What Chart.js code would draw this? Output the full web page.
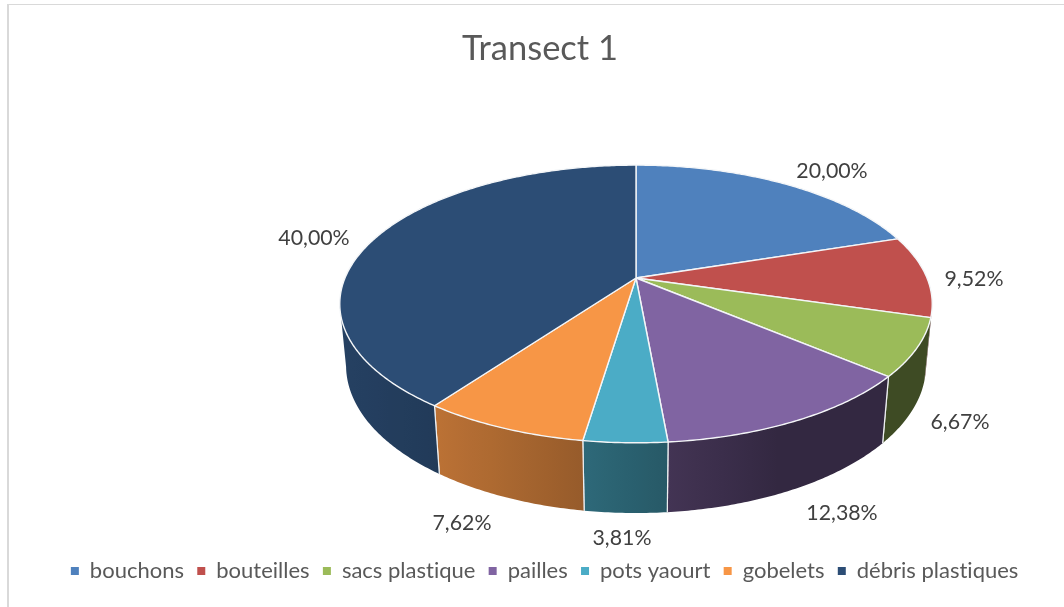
<!DOCTYPE html>
<html>
<head>
<meta charset="utf-8">
<title>Transect 1</title>
<script src="https://cdn.jsdelivr.net/npm/chart.js@4/dist/chart.umd.min.js"></script>
<style>
  html, body { margin: 0; padding: 0; background: #fff; overflow: hidden; }
  #frame { position: absolute; left: 7px; top: 4px; width: 1057px; height: 603px; box-sizing: border-box; border-left: 2px solid #d9d9d9; border-top: 1px solid #d9d9d9; }
  #chart { position: absolute; left: 0; top: 0; }
</style>
</head>
<body>
<div id="frame"></div>
<canvas id="chart" width="1064" height="607"></canvas>
<script>
const categories = ['bouchons', 'bouteilles', 'sacs plastique', 'pailles', 'pots yaourt', 'gobelets', 'débris plastiques'];
const percents = [20.00, 9.52, 6.67, 12.38, 3.81, 7.62, 40.00];
const colors = ['#4f81bd', '#c0504d', '#9bbb59', '#8064a2', '#4bacc6', '#f79646', '#2c4d75'];

// where each percentage label sits (text centre)
const labelSpots = [[832, 171.5], [974, 279], [960, 422], [842, 513], [622, 538], [462, 523], [314, 238]];

// the "camera": Chart.js only does flat pies, so slices get projected by hand
const cam = { cx: 636, cy: 278, a: 291, b: 134, k: -0.187, depth: 62, shrink: 0.021 };

function project(theta, z) {
    const X = Math.sin(theta), Y = -Math.cos(theta);
    const w = 1 + cam.k * Y + cam.shrink * z;
    return { x: cam.cx + cam.a * X / w, y: cam.cy + (cam.b * Y + cam.depth * z) / w };
}

// wall lighting goes darker from left to right
const shadeStops = [[340, .84], [435, .76], [583, .61], [667, .52], [780, .40], [1000, .40]];
function shadeAt(x) {
    for (let i = 1; i < shadeStops.length; i++) {
        if (x <= shadeStops[i][0]) {
            const p = shadeStops[i - 1], q = shadeStops[i];
            return p[1] + (q[1] - p[1]) * Math.max(0, x - p[0]) / (q[0] - p[0]);
        }
    }
    return .4;
}
function darken(hex, f) {
    const n = parseInt(hex.slice(1), 16);
    return `rgb(${Math.round((n >> 16) * f)},${Math.round(((n >> 8) & 255) * f)},${Math.round((n & 255) * f)})`;
}

function sampleAngles(start, end) {
    const n = Math.max(2, Math.ceil((end - start) / 0.01));
    const out = [];
    for (let i = 0; i <= n; i++) out.push(start + (end - start) * i / n);
    return out;
}

function drawWall(ctx, start, end, color) {
    // only the part facing the viewer, up to the left silhouette so the edge is a straight tangent
    const from = Math.max(start, 1.8), to = Math.min(end, 4.52);
    if (to <= from) return;
    const angles = sampleAngles(from, to);
    const top = angles.map(t => project(t, 0));
    const bottom = angles.map(t => project(t, 1));
    const xs = top.concat(bottom).map(p => p.x);
    const x0 = Math.min(...xs), x1 = Math.max(...xs);
    const grad = ctx.createLinearGradient(x0, 0, x1, 0);
    for (let i = 0; i <= 8; i++) {
        grad.addColorStop(i / 8, darken(color, shadeAt(x0 + (x1 - x0) * i / 8)));
    }
    ctx.beginPath();
    top.forEach((p, i) => i ? ctx.lineTo(p.x, p.y) : ctx.moveTo(p.x, p.y));
    bottom.reverse().forEach(p => ctx.lineTo(p.x, p.y));
    ctx.closePath();
    ctx.fillStyle = grad;
    ctx.fill();

    // white seam at the slice edges
    ctx.strokeStyle = '#eef0f2';
    ctx.lineWidth = 1.2;
    [start, end].forEach(t => {
        if (t > 1.9 && t < 4.5) {
            const p = project(t, 0), q = project(t, 1);
            ctx.beginPath();
            ctx.moveTo(p.x, p.y);
            ctx.lineTo(q.x, q.y);
            ctx.stroke();
        }
    });
}

function drawTop(ctx, start, end, color) {
    ctx.beginPath();
    ctx.moveTo(cam.cx, cam.cy);
    sampleAngles(start, end).forEach(t => {
        const p = project(t, 0);
        ctx.lineTo(p.x, p.y);
    });
    ctx.closePath();
    ctx.fillStyle = color;
    ctx.fill();
    ctx.strokeStyle = '#f4f6f8';
    ctx.lineWidth = 1.4;
    ctx.lineJoin = 'round';
    ctx.stroke();
}

const pie3d = {
    id: 'pie3d',
    beforeDraw(chart) {
        // no "ti" ligature in plastiques
        chart.ctx.textRendering = 'optimizeSpeed';
    },
    beforeDatasetDraw(chart, args) {
        const ctx = chart.ctx;
        const arcs = chart.getDatasetMeta(args.index).data;
        const slices = arcs.map((arc, i) => ({
            start: arc.startAngle + Math.PI / 2,
            end: arc.endAngle + Math.PI / 2,
            color: colors[i]
        }));
        ctx.save();
        slices.forEach(s => drawWall(ctx, s.start, s.end, s.color));
        slices.forEach(s => drawTop(ctx, s.start, s.end, s.color));
        ctx.restore();
        return false;
    },
    afterDatasetsDraw(chart) {
        const ctx = chart.ctx;
        ctx.save();
        ctx.font = '21.3px Lato';
        ctx.fillStyle = '#404040';
        ctx.textAlign = 'center';
        ctx.textBaseline = 'middle';
        percents.forEach((v, i) => {
            ctx.fillText(v.toFixed(2).replace('.', ',') + '%', labelSpots[i][0], labelSpots[i][1]);
        });
        ctx.restore();
    },
    afterLayout(chart) {
        // title sits a little left of the legend centre
        chart.titleBlock.left -= 5;
        chart.titleBlock.right -= 5;
    }
};

new Chart(document.getElementById('chart'), {
    type: 'pie',
    data: { labels: categories, datasets: [{ data: percents, backgroundColor: colors, borderWidth: 0 }] },
    plugins: [pie3d],
    options: {
        responsive: false,
        animation: false,
        layout: { padding: { left: 26, right: 0, top: 0, bottom: 15 } },
        plugins: {
            tooltip: { enabled: false },
            title: {
                display: true,
                text: 'Transect 1',
                color: '#595959',
                font: { family: 'Lato', size: 34.5, weight: 'normal' },
                padding: { top: 28, bottom: 20 }
            },
            legend: {
                position: 'bottom',
                labels: {
                    boxWidth: 8,
                    boxHeight: 8,
                    padding: 13.3,
                    color: '#595959',
                    font: { family: 'Lato', size: 22 }
                }
            }
        }
    }
});
</script>
</body>
</html>
